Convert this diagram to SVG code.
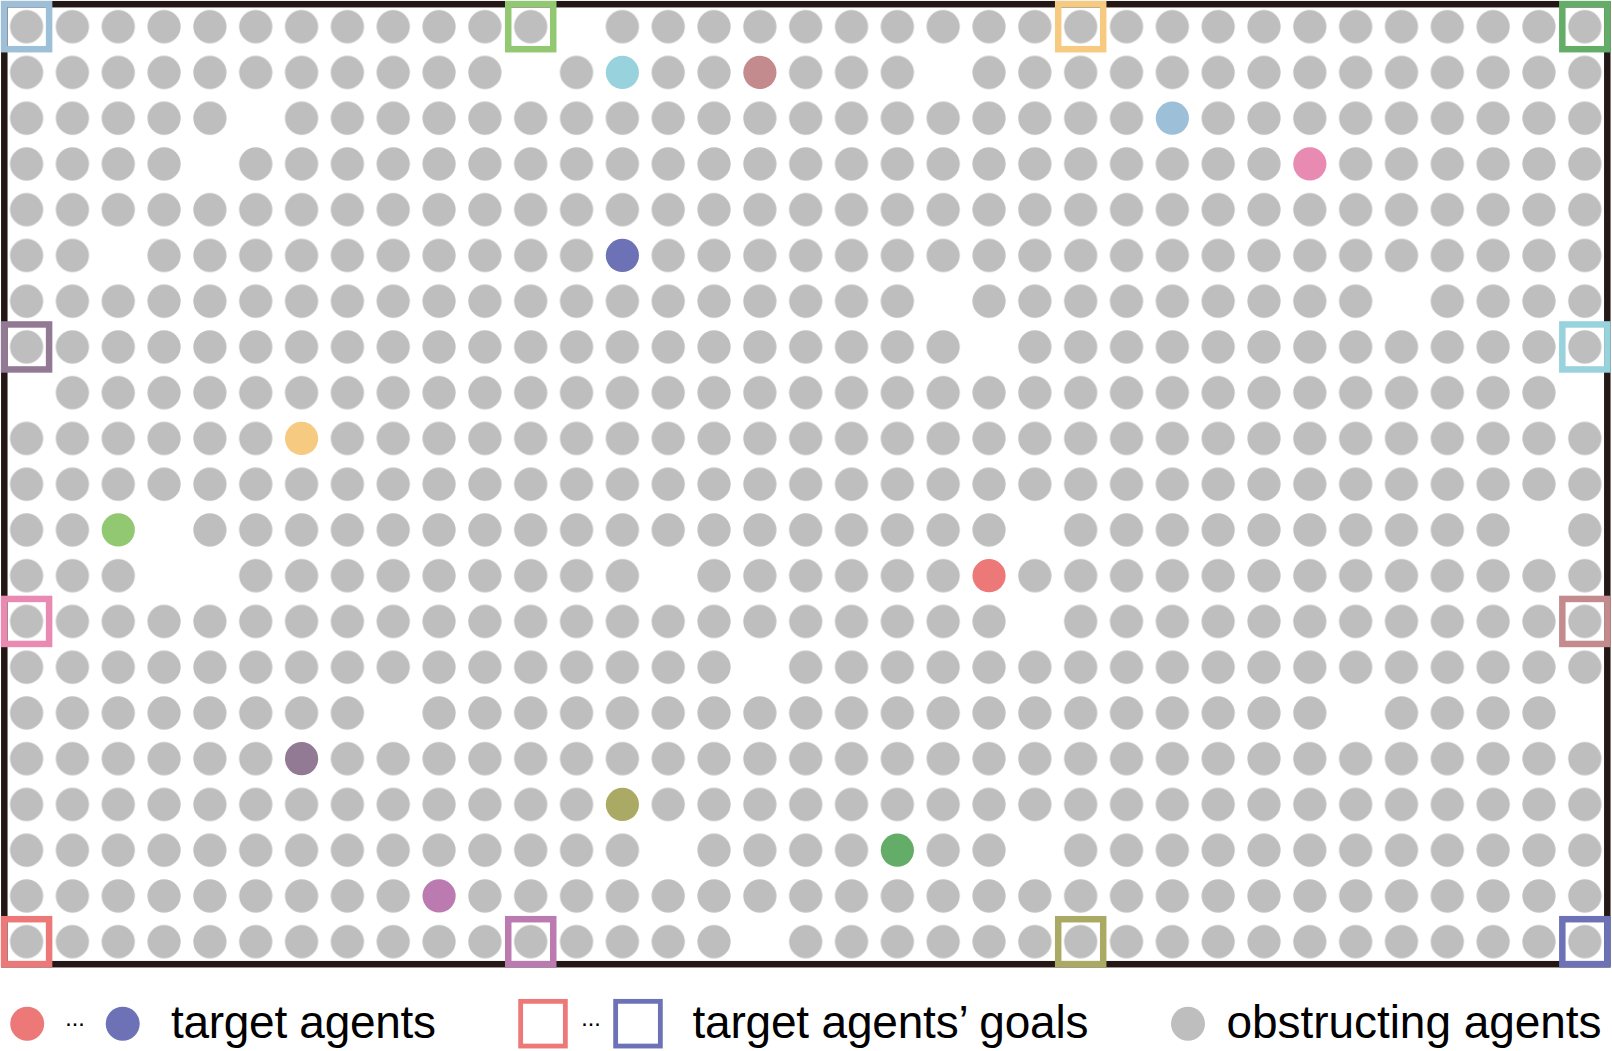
<svg xmlns="http://www.w3.org/2000/svg" width="1612" height="1051" viewBox="0 0 1612 1051">
<style>
.frame{fill:none;stroke:#231815;stroke-width:6.5}
.goal{fill:none;stroke-width:6.5}
.lgoal{fill:none;stroke-width:4.8}
.lbl{font-family:"Liberation Sans",Arial,sans-serif;font-size:46px;fill:#000}
.dots{font-family:"Liberation Sans",Arial,sans-serif;font-size:24px;fill:#000}
.gray{fill:#BFBEBE}
</style>
<defs>
<pattern id="cell" patternUnits="userSpaceOnUse" x="0" y="0" width="1" height="1">
<circle cx="0.5" cy="0.5" r="0.3622" fill="#BFBEBE"/>
</pattern>
</defs>
<rect id="frame" class="frame" x="4.3" y="4.2" width="1603" height="960"/>
<g id="obstructing-agents" transform="translate(3.685 3.825) scale(45.83 45.75)" fill="url(#cell)">
<rect x="0" y="0" width="12" height="1"/><rect x="13" y="0" width="22" height="1"/>
<rect x="0" y="1" width="11" height="1"/><rect x="12" y="1" width="1" height="1"/><rect x="14" y="1" width="2" height="1"/><rect x="17" y="1" width="3" height="1"/><rect x="21" y="1" width="14" height="1"/>
<rect x="0" y="2" width="5" height="1"/><rect x="6" y="2" width="19" height="1"/><rect x="26" y="2" width="9" height="1"/>
<rect x="0" y="3" width="4" height="1"/><rect x="5" y="3" width="23" height="1"/><rect x="29" y="3" width="6" height="1"/>
<rect x="0" y="4" width="35" height="1"/>
<rect x="0" y="5" width="2" height="1"/><rect x="3" y="5" width="10" height="1"/><rect x="14" y="5" width="21" height="1"/>
<rect x="0" y="6" width="20" height="1"/><rect x="21" y="6" width="9" height="1"/><rect x="31" y="6" width="4" height="1"/>
<rect x="0" y="7" width="21" height="1"/><rect x="22" y="7" width="13" height="1"/>
<rect x="1" y="8" width="33" height="1"/>
<rect x="0" y="9" width="6" height="1"/><rect x="7" y="9" width="28" height="1"/>
<rect x="0" y="10" width="35" height="1"/>
<rect x="0" y="11" width="2" height="1"/><rect x="4" y="11" width="18" height="1"/><rect x="23" y="11" width="10" height="1"/><rect x="34" y="11" width="1" height="1"/>
<rect x="0" y="12" width="3" height="1"/><rect x="5" y="12" width="9" height="1"/><rect x="15" y="12" width="6" height="1"/><rect x="22" y="12" width="13" height="1"/>
<rect x="0" y="13" width="22" height="1"/><rect x="23" y="13" width="12" height="1"/>
<rect x="0" y="14" width="16" height="1"/><rect x="17" y="14" width="18" height="1"/>
<rect x="0" y="15" width="8" height="1"/><rect x="9" y="15" width="20" height="1"/><rect x="30" y="15" width="4" height="1"/>
<rect x="0" y="16" width="6" height="1"/><rect x="7" y="16" width="28" height="1"/>
<rect x="0" y="17" width="13" height="1"/><rect x="14" y="17" width="21" height="1"/>
<rect x="0" y="18" width="14" height="1"/><rect x="15" y="18" width="4" height="1"/><rect x="20" y="18" width="2" height="1"/><rect x="23" y="18" width="12" height="1"/>
<rect x="0" y="19" width="9" height="1"/><rect x="10" y="19" width="25" height="1"/>
<rect x="0" y="20" width="16" height="1"/><rect x="17" y="20" width="18" height="1"/>
</g>
<g id="target-agents">
<g id="agent-cyan"><circle cx="622.39" cy="72.45" r="16.6" fill="#98D3DD"/></g>
<g id="agent-rosy"><circle cx="759.88" cy="72.45" r="16.6" fill="#C48B8E"/></g>
<g id="agent-lightblue"><circle cx="1172.35" cy="118.2" r="16.6" fill="#9DBFD8"/></g>
<g id="agent-pink"><circle cx="1309.84" cy="163.95" r="16.6" fill="#E98AB3"/></g>
<g id="agent-navy"><circle cx="622.39" cy="255.45" r="16.6" fill="#6C72B5"/></g>
<g id="agent-orange"><circle cx="301.58" cy="438.45" r="16.6" fill="#F7CA82"/></g>
<g id="agent-lightgreen"><circle cx="118.26" cy="529.95" r="16.6" fill="#93C873"/></g>
<g id="agent-red"><circle cx="989.03" cy="575.7" r="16.6" fill="#EC7878"/></g>
<g id="agent-purple"><circle cx="301.58" cy="758.7" r="16.6" fill="#937A94"/></g>
<g id="agent-olive"><circle cx="622.39" cy="804.45" r="16.6" fill="#ABAA65"/></g>
<g id="agent-green"><circle cx="897.37" cy="850.2" r="16.6" fill="#64AD68"/></g>
<g id="agent-orchid"><circle cx="439.07" cy="895.95" r="16.6" fill="#BB7AB0"/></g>
</g>
<g id="goals">
<g id="goal-lightblue"><rect class="goal" x="4.1" y="4.2" width="45" height="45" stroke="#9DBFD8"/></g>
<g id="goal-lightgreen"><rect class="goal" x="508.23" y="4.2" width="45" height="45" stroke="#93C873"/></g>
<g id="goal-orange"><rect class="goal" x="1058.19" y="4.2" width="45" height="45" stroke="#F7CA82"/></g>
<g id="goal-green"><rect class="goal" x="1562.32" y="4.2" width="45" height="45" stroke="#64AD68"/></g>
<g id="goal-purple"><rect class="goal" x="4.1" y="324.45" width="45" height="45" stroke="#937A94"/></g>
<g id="goal-cyan"><rect class="goal" x="1562.32" y="324.45" width="45" height="45" stroke="#98D3DD"/></g>
<g id="goal-pink"><rect class="goal" x="4.1" y="598.95" width="45" height="45" stroke="#E98AB3"/></g>
<g id="goal-rosy"><rect class="goal" x="1562.32" y="598.95" width="45" height="45" stroke="#C48B8E"/></g>
<g id="goal-red"><rect class="goal" x="4.1" y="919.2" width="45" height="45" stroke="#EC7878"/></g>
<g id="goal-orchid"><rect class="goal" x="508.23" y="919.2" width="45" height="45" stroke="#BB7AB0"/></g>
<g id="goal-olive"><rect class="goal" x="1058.19" y="919.2" width="45" height="45" stroke="#ABAA65"/></g>
<g id="goal-navy"><rect class="goal" x="1562.32" y="919.2" width="45" height="45" stroke="#6C72B5"/></g>
</g>
<g id="legend">
<circle cx="27.2" cy="1023.8" r="17" fill="#EC7878"/>
<text class="dots" x="64.5" y="1031" textLength="21">···</text>
<circle cx="122.7" cy="1023.8" r="17" fill="#6C72B5"/>
<text class="lbl" x="171" y="1037.5" textLength="265">target agents</text>
<rect class="lgoal" x="520.65" y="1001.35" width="44.7" height="44.7" stroke="#EC7878"/>
<text class="dots" x="580.5" y="1031" textLength="21">···</text>
<rect class="lgoal" x="615.65" y="1001.35" width="44.7" height="44.7" stroke="#6C72B5"/>
<text class="lbl" x="692.5" y="1037.5" textLength="396">target agents’ goals</text>
<circle class="gray" cx="1188" cy="1023.8" r="17"/>
<text class="lbl" x="1226.5" y="1037.5" textLength="375">obstructing agents</text>
</g>
</svg>
